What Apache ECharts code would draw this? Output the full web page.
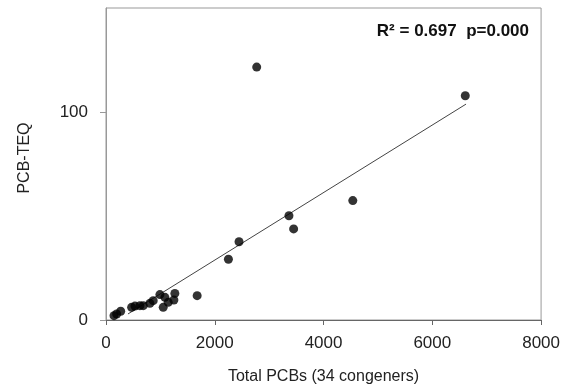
<!DOCTYPE html>
<html>
<head>
<meta charset="utf-8">
<script src="https://cdn.jsdelivr.net/npm/echarts@6/dist/echarts.min.js"></script>
<style>html,body{margin:0;padding:0;background:#fff}#c{width:563px;height:390px}</style>
</head>
<body>
<div id="c"></div>
<script>
// Total PCBs (34 congeners)
var totalPCBs = [147, 196, 270, 471, 532, 624, 685, 807, 868, 991, 1052, 1083, 1144, 1248, 1266, 1676, 2251, 2446, 2771, 3364, 3450, 4538, 6606];
// PCB-TEQ
var pcbTEQ    = [2.1, 2.9, 4.2, 6.1, 6.7, 6.9, 6.9, 8.0, 9.3, 12.2, 6.1, 10.9, 8.5, 9.6, 12.8, 11.7, 29.2, 37.6, 121.6, 50.1, 43.8, 57.4, 107.8];
// Regression line end points
var fitX = [404, 6620];
var fitY = [2.9, 103.8];
var xTicks = [0, 2000, 4000, 6000, 8000];
var yTicks = [0, 100];
var statText = 'R² = 0.697  p=0.000';

var points = totalPCBs.map(function (x, i) { return [x, pcbTEQ[i]]; });
var fit = fitX.map(function (x, i) { return [x, fitY[i]]; });

var chart = echarts.init(document.getElementById('c'));
chart.setOption({
  animation: false,
  backgroundColor: '#fff',
  textStyle: { fontFamily: 'Liberation Sans, Arial, sans-serif' },
  title: {
    text: statText,
    right: 29, top: 18,
    textStyle: { fontSize: 17, fontWeight: 'bold', color: '#111', fontFamily: 'Liberation Sans, Arial, sans-serif' }
  },
  grid: { left: 106, right: 20, top: 8, bottom: 69, show: true, borderColor: '#999', borderWidth: 1 },
  xAxis: {
    type: 'value', min: xTicks[0], max: xTicks[xTicks.length - 1], interval: 2000,
    name: 'Total PCBs (34 congeners)', nameLocation: 'middle', nameGap: 49,
    nameTextStyle: { fontSize: 16, color: '#222' },
    axisLine: { lineStyle: { color: '#666' } },
    axisTick: { show: true, length: 5, lineStyle: { color: '#666' } },
    axisLabel: { fontSize: 17, color: '#222', margin: 15, formatter: function (v) { return String(v); } },
    splitLine: { show: false }
  },
  yAxis: {
    type: 'value', min: 0, max: 150, interval: 100,
    name: 'PCB-TEQ', nameLocation: 'middle', nameGap: 73,
    nameTextStyle: { fontSize: 16, color: '#222', padding: [0, 0, 0, 12] },
    axisLine: { show: true, lineStyle: { color: '#999' } },
    axisTick: { show: true, length: 6, lineStyle: { color: '#999' } },
    axisLabel: { fontSize: 17, color: '#222', margin: 18, showMaxLabel: false, formatter: function (v) { return String(v); } },
    splitLine: { show: false }
  },
  series: [
    { type: 'scatter', data: points, symbolSize: 9, itemStyle: { color: '#000' }, z: 3 },
    { type: 'line', data: fit, symbol: 'none', lineStyle: { color: '#444', width: 1 }, z: 2 }
  ]
});
</script>
</body>
</html>
